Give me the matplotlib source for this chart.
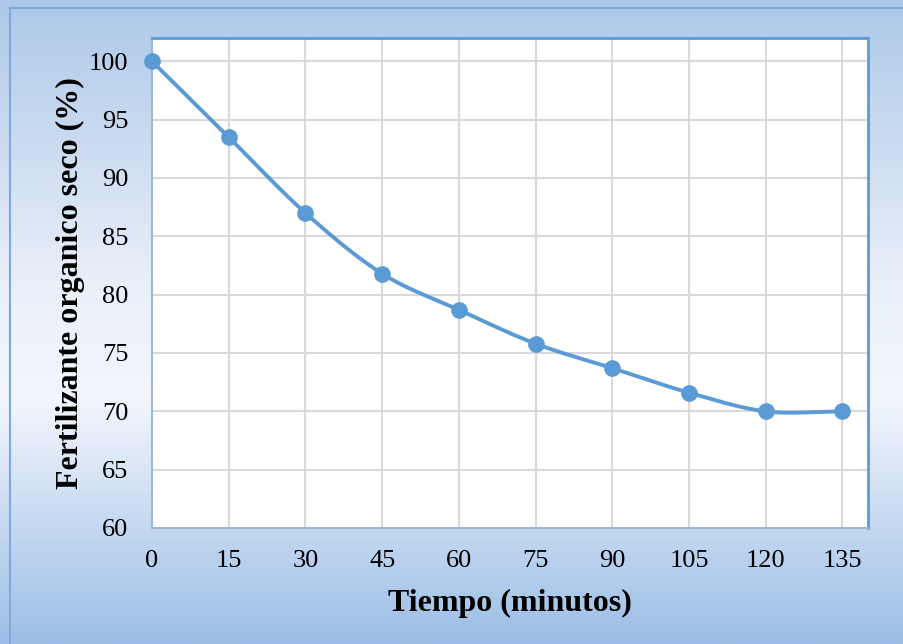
import numpy as np
import matplotlib
matplotlib.use("Agg")
import matplotlib.pyplot as plt
from matplotlib.colors import LinearSegmentedColormap
from matplotlib.patches import Rectangle

# Drying curve data
tiempo = [0, 15, 30, 45, 60, 75, 90, 105, 120, 135]
seco = [100, 93.5, 87.0, 81.8, 78.7, 75.8, 73.7, 71.6, 70.0, 70.0]
x_ticks = [0, 15, 30, 45, 60, 75, 90, 105, 120, 135]
y_ticks = [60, 65, 70, 75, 80, 85, 90, 95, 100]

LINE = "#5b9bd5"


def smooth_curve(x, y, n=30):
    """Catmull-Rom style smoothing through the given points."""
    x = np.asarray(x, float)
    y = np.asarray(y, float)
    px = np.concatenate([[2 * x[0] - x[1]], x, [2 * x[-1] - x[-2]]])
    py = np.concatenate([[2 * y[0] - y[1]], y, [2 * y[-1] - y[-2]]])
    xs, ys = [], []
    t = np.linspace(0, 1, n)
    for i in range(1, len(px) - 2):
        p0, p1, p2, p3 = (np.array([px[j], py[j]]) for j in range(i - 1, i + 3))
        c1 = p1 + (p2 - p0) / 6
        c2 = p2 - (p3 - p1) / 6
        pts = ((1 - t) ** 3)[:, None] * p1 + (3 * (1 - t) ** 2 * t)[:, None] * c1 \
            + (3 * (1 - t) * t ** 2)[:, None] * c2 + (t ** 3)[:, None] * p2
        xs.extend(pts[:, 0])
        ys.extend(pts[:, 1])
    return np.array(xs), np.array(ys)


fig = plt.figure(figsize=(9.04, 6.44), dpi=100)

# Gradient backdrop
bg = fig.add_axes([0, 0, 1, 1], zorder=-10)
cmap = LinearSegmentedColormap.from_list(
    "bg", [(0.0, "#9cbee6"), (0.38, "#f2f6fc"), (0.55, "#eaf0f9"), (1.0, "#adc8e8")])
grad = np.linspace(0, 1, 256)[:, None]
bg.imshow(grad, aspect="auto", cmap=cmap, extent=[0, 1, 0, 1], origin="lower")
bg.add_patch(Rectangle((10 / 904, -0.1), 1.2, 1 - 8 / 644 + 0.1,
                       fill=False, edgecolor="#7fa9dc", lw=1.5))
bg.set_xlim(0, 1)
bg.set_ylim(0, 1)
bg.axis("off")

ax = fig.add_axes([152 / 904, 1 - 528 / 644, (868 - 152) / 904, (528 - 38) / 644])
ax.set_facecolor("white")

sx, sy = smooth_curve(tiempo, seco)
ax.plot(sx, sy, color=LINE, lw=2.8, solid_capstyle="round", zorder=3)
ax.plot(tiempo, seco, "o", color=LINE, ms=11, zorder=4, clip_on=False)

ax.set_xlim(0, 140)
ax.set_ylim(60, 102)
ax.set_xticks(x_ticks)
ax.set_yticks(y_ticks)
ax.grid(True, color="#d9d9d9", lw=1.5)
ax.set_axisbelow(True)
ax.tick_params(length=0, labelsize=19)
ax.tick_params(axis="x", pad=16)
ax.tick_params(axis="y", pad=17)
for lab in ax.get_xticklabels() + ax.get_yticklabels():
    lab.set_fontfamily("Liberation Serif")

for side in ("top", "right"):
    ax.spines[side].set_color(LINE)
    ax.spines[side].set_linewidth(2)
for side in ("left", "bottom"):
    ax.spines[side].set_color("#9fb8d8")
    ax.spines[side].set_linewidth(1.5)

ax.set_xlabel("Tiempo (minutos)", fontsize=23, fontweight="bold",
              fontfamily="Liberation Serif", labelpad=12)
ax.set_ylabel("Fertilizante organico seco (%)", fontsize=23, fontweight="bold",
              fontfamily="Liberation Serif", labelpad=3)

fig.savefig("out.png", dpi=100)
